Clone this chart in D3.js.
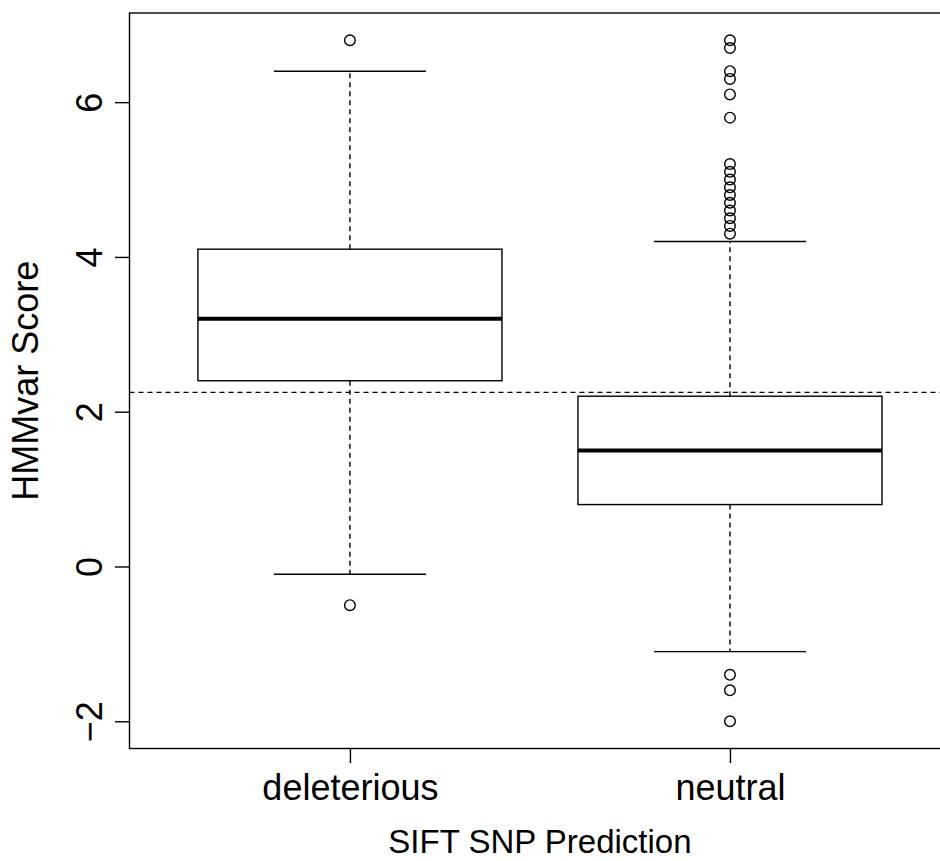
<!DOCTYPE html>
<html>
<head>
<meta charset="utf-8">
<script src="https://cdn.jsdelivr.net/npm/d3@7"></script>
<style>
  html, body { margin: 0; padding: 0; background: #fff; }
  svg text { font-family: "Liberation Sans", Arial, Helvetica, sans-serif; fill: #000; }
</style>
</head>
<body>
<div id="chart"></div>
<script>
const categories = ["deleterious", "neutral"];
const q1 = [2.4, 0.8];
const medians = [3.2, 1.5];
const q3 = [4.1, 2.2];
const whiskerLow = [-0.1, -1.1];
const whiskerHigh = [6.4, 4.2];
const outliersDeleterious = [6.8, -0.5];
const outliersNeutral = [6.8, 6.7, 6.4, 6.3, 6.1, 5.8, 5.2, 5.1, 5.0, 4.9, 4.8, 4.7, 4.6, 4.5, 4.4, 4.3, -1.4, -1.6, -2.0];
const threshold = 2.25;
const yTicks = [-2, 0, 2, 4, 6];
const xTitle = "SIFT SNP Prediction";
const yTitle = "HMMvar Score";

(function () {
const W = 940, H = 861;
const pLeft = 129.5, pTop = 13, pBottom = 748.5, pRight = 950.4;
const fsTick = 36, fsX = 33, fsY = 36;
const lw = 1.4;

const svg = d3.select("#chart").append("svg")
  .attr("width", W).attr("height", H);

const x = d3.scaleLinear().domain([0.42, 2.58]).range([pLeft, pRight]);
const y = d3.scaleLinear().domain([-2.352, 7.152]).range([pBottom, pTop]);

const boxHalf = x(1.4) - x(1);
const capHalf = boxHalf / 2;

const data = categories.map((c, i) => ({
  cat: c, pos: i + 1, q1: q1[i], med: medians[i], q3: q3[i],
  lo: whiskerLow[i], hi: whiskerHigh[i],
  out: i === 0 ? outliersDeleterious : outliersNeutral
}));

svg.append("line")
  .attr("x1", pLeft).attr("x2", pRight)
  .attr("y1", y(threshold)).attr("y2", y(threshold))
  .attr("stroke", "#000").attr("stroke-width", lw)
  .attr("stroke-dasharray", "5,4");

const g = svg.selectAll("g.box").data(data).enter().append("g").attr("class", "box");

g.append("line")
  .attr("x1", d => x(d.pos)).attr("x2", d => x(d.pos))
  .attr("y1", d => y(d.q3)).attr("y2", d => y(d.hi))
  .attr("stroke", "#000").attr("stroke-width", lw).attr("stroke-dasharray", "5,4");
g.append("line")
  .attr("x1", d => x(d.pos)).attr("x2", d => x(d.pos))
  .attr("y1", d => y(d.q1)).attr("y2", d => y(d.lo))
  .attr("stroke", "#000").attr("stroke-width", lw).attr("stroke-dasharray", "5,4");
g.append("line")
  .attr("x1", d => x(d.pos) - capHalf).attr("x2", d => x(d.pos) + capHalf)
  .attr("y1", d => y(d.hi)).attr("y2", d => y(d.hi))
  .attr("stroke", "#000").attr("stroke-width", lw);
g.append("line")
  .attr("x1", d => x(d.pos) - capHalf).attr("x2", d => x(d.pos) + capHalf)
  .attr("y1", d => y(d.lo)).attr("y2", d => y(d.lo))
  .attr("stroke", "#000").attr("stroke-width", lw);
g.append("rect")
  .attr("x", d => x(d.pos) - boxHalf).attr("width", 2 * boxHalf)
  .attr("y", d => y(d.q3)).attr("height", d => y(d.q1) - y(d.q3))
  .attr("fill", "#fff").attr("stroke", "#000").attr("stroke-width", lw);
g.append("line")
  .attr("x1", d => x(d.pos) - boxHalf).attr("x2", d => x(d.pos) + boxHalf)
  .attr("y1", d => y(d.med)).attr("y2", d => y(d.med))
  .attr("stroke", "#000").attr("stroke-width", 4);
g.selectAll("circle").data(d => d.out.map(v => ({pos: d.pos, v}))).enter().append("circle")
  .attr("cx", d => x(d.pos)).attr("cy", d => y(d.v)).attr("r", 5.3)
  .attr("fill", "none").attr("stroke", "#000").attr("stroke-width", lw);

svg.append("rect")
  .attr("x", pLeft).attr("y", pTop).attr("width", pRight - pLeft).attr("height", pBottom - pTop)
  .attr("fill", "none").attr("stroke", "#000").attr("stroke-width", lw);

const yAxis = d3.axisLeft(y).tickValues(yTicks).tickSize(14.5).tickPadding(0)
  .tickFormat(d => d < 0 ? "\u2212" + Math.abs(d) : String(d));
const ya = svg.append("g").attr("transform", `translate(${pLeft},0)`).call(yAxis);
ya.select(".domain").remove();
ya.selectAll(".tick line").attr("stroke", "#000").attr("stroke-width", lw);
ya.selectAll(".tick text")
  .attr("x", 0).attr("y", 0).attr("dy", null)
  .attr("transform", "translate(-27.5,0) rotate(-90)")
  .attr("text-anchor", "middle")
  .style("font-size", fsTick + "px");

const xAxis = d3.axisBottom(x).tickValues([1, 2]).tickSize(14.5).tickPadding(0)
  .tickFormat(d => categories[d - 1]);
const xa = svg.append("g").attr("transform", `translate(0,${pBottom})`).call(xAxis);
xa.select(".domain").remove();
xa.selectAll(".tick line").attr("stroke", "#000").attr("stroke-width", lw);
xa.selectAll(".tick text")
  .attr("y", 51.5).attr("dy", null)
  .style("font-size", fsTick + "px");

svg.append("text")
  .attr("x", (pLeft + pRight) / 2).attr("y", 853)
  .attr("text-anchor", "middle")
  .style("font-size", fsX + "px")
  .text(xTitle);
svg.append("text")
  .attr("transform", `translate(38,${(pTop + pBottom) / 2}) rotate(-90)`)
  .attr("text-anchor", "middle")
  .style("font-size", fsY + "px")
  .text(yTitle);
})();
</script>
</body>
</html>
